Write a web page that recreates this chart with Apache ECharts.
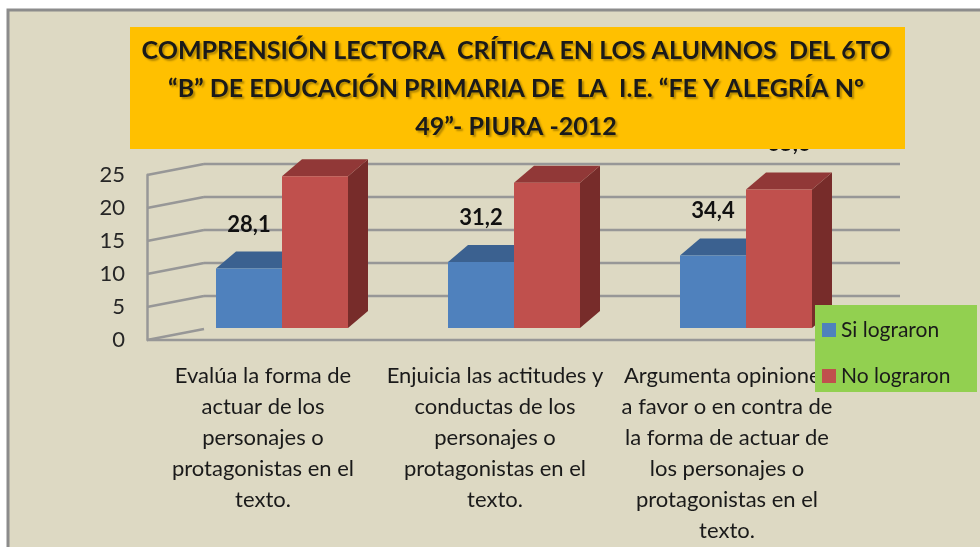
<!DOCTYPE html>
<html>
<head>
<meta charset="utf-8">
<title>Comprensión lectora crítica</title>
<script src="https://cdn.jsdelivr.net/npm/echarts@6/dist/echarts.min.js"></script>
<style>
    html, body { margin: 0; padding: 0; background: #fff; }
    #chart { width: 980px; height: 547px; }
</style>
</head>
<body>
<div id="chart"></div>
<script>
// Data
// ------------------------------

var categories = [
    'Evalúa la forma de\nactuar de los\npersonajes o\nprotagonistas en el\ntexto.',
    'Enjuicia las actitudes y\nconductas de los\npersonajes o\nprotagonistas en el\ntexto.',
    'Argumenta opiniones\na favor o en contra de\nla forma de actuar de\nlos personajes o\nprotagonistas en el\ntexto.'
];
var seriesNames = ['Si lograron', 'No lograron'];
var siLograron = [9, 10, 11];
var noLograron = [23, 22, 21];
var siPorcentaje = [28.1, 31.2, 34.4];
var noPorcentaje = [71.9, 68.8, 65.6];
var yTicks = [0, 5, 10, 15, 20, 25];
var titleLines = [
    'COMPRENSIÓN LECTORA  CRÍTICA EN LOS ALUMNOS  DEL 6TO',
    '“B” DE EDUCACIÓN PRIMARIA DE  LA  I.E. “FE Y ALEGRÍA Nº',
    '49”- PIURA -2012'
];


// Setup
// ------------------------------

var FONT = "Lato, 'Open Sans', sans-serif";

// 3D look: wall depth, bar depth and bar offset from the front plane
var WALL_X = 57, WALL_Y = -11;
var BAR_W = 66, DEPTH_X = 20, DEPTH_Y = -17;
var SHIFT_X = 19, SHIFT_Y = -12;

function fmt(v) {
    return v.toFixed(1).replace('.', ',');
}

// Walls: left diagonals, back grid lines, front floor edge
var renderWalls = function(params, api) {
    var cs = params.coordSys;
    var v = api.value(1);
    var y = api.coord([0, v])[1];
    var left = cs.x, right = cs.x + cs.width;
    var st = {stroke: '#979797', lineWidth: 2.5};
    var children = [
        {type: 'line', shape: {x1: left, y1: y, x2: left + WALL_X, y2: y + WALL_Y}, style: st}
    ];
    if (v === 0) {
        children.push({type: 'line', shape: {x1: left, y1: y, x2: right, y2: y}, style: st});
        children.push({type: 'line', shape: {x1: right, y1: y, x2: right + WALL_X, y2: y + WALL_Y}, style: st});
    } else {
        children.push({type: 'line', shape: {x1: left + WALL_X, y1: y + WALL_Y, x2: right + WALL_X, y2: y + WALL_Y}, style: st});
    }
    return {type: 'group', children: children};
};

// 3D bars drawn as front face, top and right side
var makeBarRenderer = function(side, colors, pct) {
    return function(params, api) {
        var i = api.value(0);
        var v = api.value(1);
        var base = api.coord([i, 0]);
        var tip = api.coord([i, v]);
        var x0 = base[0] + SHIFT_X + (side < 0 ? -BAR_W : 0);
        var x1 = x0 + BAR_W;
        var yb = base[1] + SHIFT_Y;
        var yt = tip[1] + SHIFT_Y;
        var label = side < 0
            ? {x: (x0 + x1) / 2, y: yt - 44}
            : {x: (x0 + x1) / 2 + DEPTH_X / 2, y: yt + DEPTH_Y - 28};
        return {
            type: 'group',
            children: [
                {type: 'polygon', shape: {points: [[x1, yb], [x1 + DEPTH_X, yb + DEPTH_Y], [x1 + DEPTH_X, yt + DEPTH_Y], [x1, yt]]}, style: {fill: colors[2]}},
                {type: 'polygon', shape: {points: [[x0, yt], [x0 + DEPTH_X, yt + DEPTH_Y], [x1 + DEPTH_X, yt + DEPTH_Y], [x1, yt]]}, style: {fill: colors[1]}},
                {type: 'rect', shape: {x: x0, y: yt, width: BAR_W, height: yb - yt}, style: {fill: colors[0]}},
                {type: 'text', x: label.x, y: label.y, style: {
                    text: fmt(pct[i]), font: 'bold 22px ' + FONT, fill: '#111',
                    align: 'center', verticalAlign: 'middle'
                }}
            ]
        };
    };
};

var chart = echarts.init(document.getElementById('chart'));

chart.setOption({
    backgroundColor: '#ffffff',
    animation: false,
    textStyle: {fontFamily: FONT},

    graphic: [
        // Chart area frame
        {type: 'rect', z: -1, shape: {x: 8, y: 10, width: 1000, height: 600},
            style: {fill: '#DDD9C3', stroke: '#8C8C8C', lineWidth: 3}},
        // Legend box
        {type: 'rect', z: 3, shape: {x: 815, y: 305, width: 162, height: 87},
            style: {fill: '#92D050'}},
        // Title box
        {type: 'rect', z: 100, shape: {x: 130, y: 27, width: 775, height: 122},
            style: {fill: '#FFC000'}},
        {type: 'text', z: 101, x: 516, y: 89, style: {
            text: titleLines.join('\n'),
            font: 'bold 25px ' + FONT,
            lineHeight: 38,
            fill: '#1a1a1a',
            align: 'center',
            verticalAlign: 'middle',
            textShadowColor: 'rgba(0,0,0,0.3)',
            textShadowBlur: 2,
            textShadowOffsetX: 2,
            textShadowOffsetY: 2
        }}
    ],

    legend: {
        data: seriesNames,
        orient: 'vertical',
        left: 815,
        top: 305,
        z: 4,
        padding: [13, 8, 12, 7],
        icon: 'rect',
        itemWidth: 14,
        itemHeight: 14,
        itemGap: 22,
        textStyle: {fontSize: 21, lineHeight: 24, color: '#1a1a1a', fontFamily: FONT}
    },

    grid: {left: 147, right: 137, top: 175, bottom: 207},

    xAxis: {
        type: 'category',
        data: categories,
        axisLine: {show: false},
        axisTick: {show: false},
        axisLabel: {interval: 0, fontSize: 22, lineHeight: 31, margin: 20, color: '#1a1a1a'}
    },

    yAxis: {
        type: 'value',
        min: 0,
        max: 25,
        interval: 5,
        axisLine: {show: true, lineStyle: {color: '#979797', width: 2.5}},
        axisTick: {show: false},
        splitLine: {show: false},
        axisLabel: {fontSize: 22, margin: 22, color: '#262626'}
    },

    series: [{
        type: 'custom',
        name: 'walls',
        z: 1,
        silent: true,
        renderItem: renderWalls,
        data: yTicks.map(function(v) { return [0, v]; })
    }, {
        type: 'custom',
        name: seriesNames[0],
        z: 2,
        itemStyle: {color: '#4F81BD'},
        renderItem: makeBarRenderer(-1, ['#4F81BD', '#3B6190', '#34557E'], siPorcentaje),
        data: siLograron.map(function(v, i) { return [i, v]; })
    }, {
        type: 'custom',
        name: seriesNames[1],
        z: 2,
        itemStyle: {color: '#C0504D'},
        renderItem: makeBarRenderer(1, ['#C0504D', '#913837', '#772C2A'], noPorcentaje),
        data: noLograron.map(function(v, i) { return [i, v]; })
    }]
});
</script>
</body>
</html>
